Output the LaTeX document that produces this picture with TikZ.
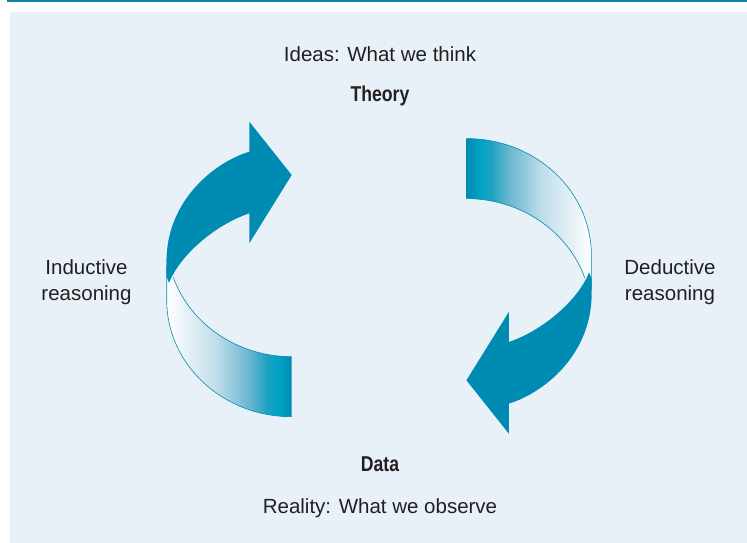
\documentclass[tikz,border=0pt]{standalone}
\usepackage{fontspec}
\setmainfont{Liberation Sans}
\newfontfamily\condfont[FakeStretch=0.82]{Liberation Sans}
\usepackage{tikz}
\definecolor{arrowteal}{HTML}{008BB2}
\definecolor{ruleteal}{HTML}{0A86AE}
\definecolor{panelblue}{HTML}{E9F1F8}
\definecolor{textgray}{HTML}{231F20}
\definecolor{ribbonA}{HTML}{BFDDE9}
\definecolor{ribbonB}{HTML}{6AB6CF}
\definecolor{ribbonC}{HTML}{1FA2C3}
\definecolor{ribbonD}{HTML}{00A5C6}
\pgfdeclarehorizontalshading{ribbon}{100bp}{color(0bp)=(white); color(25bp)=(white);
  color(45bp)=(ribbonA); color(58bp)=(ribbonB); color(65bp)=(ribbonC);
  color(69bp)=(ribbonD); color(75bp)=(arrowteal); color(100bp)=(arrowteal)}
\tikzset{
% plain caption text and bold heading text
caption/.style={text=textgray, inner sep=0, font=\fontsize{20.5}{26}\selectfont},
heading/.style={text=textgray, inner sep=0, font=\fontsize{21.5}{26}\selectfont\condfont\bfseries},
% one half of the cycle: twisted ribbon plus arrow
cycle arrow/.pic={
  \shade[shading=ribbon, shading angle=#1]
    (-212.8,-37.5) -- (-212.8,22.5)
    .. controls (-212.8,86.9) and (-156.8,139.2) .. (-87.8,139.2)
    -- (-87.8,79.2)
    .. controls (-156.8,79.2) and (-212.8,26.9) .. cycle;
  % thin edges of the ribbon
  \draw[arrowteal, line width=0.6pt] (-212.8,-12) -- (-212.8,22.5)
    .. controls (-212.8,86.9) and (-156.8,139.2) .. (-87.8,139.2);
  \draw[arrowteal, line width=0.6pt] (-87.8,79.2)
    .. controls (-141.4,79.2) and (-189.0,47.3) .. (-206.2,-0.1);
  \fill[arrowteal] (-130.2,-125.8) -- (-130.2,-155.8) -- (-87.8,-102.5)
    -- (-130.2,-34.2) -- (-130.2,-64.2)
    .. controls (-164.5,-52.5) and (-199.5,-22.5) .. (-210.5,5.5)
    -- (-213.1,-1.5) -- (-213.1,-15.5)
    .. controls (-213.1,-77.5) and (-164.5,-115.5) .. cycle;
}
}

\begin{document}
\begin{tikzpicture}[x=1pt, y=-1pt]
  \useasboundingbox[fill=white] (0,0) rectangle (747,543);
  \fill[ruleteal] (7,0) rectangle (747,2.5);
  \fill[panelblue] (10,12) rectangle (747,543);

  \pic (induct) at (379.5,277.5) {cycle arrow=0};
  \pic[rotate=180] (deduct) at (378.6,277.8) {cycle arrow=180};

  \node[caption, anchor=base] (ideas) at (380,61.7) {Ideas: What we think};
  \node[heading, anchor=base] (theory) at (380,101) {Theory};
  \node[heading, anchor=base] (data) at (380,471.7) {Data};
  \node[caption, anchor=base] (reality) at (380,513.3) {Reality: What we observe};

  \node[caption, align=center] (inductive) at (86.5,282) {Inductive\\reasoning};
  \node[caption, align=center] (deductive) at (670,282) {Deductive\\reasoning};
\end{tikzpicture}
\end{document}
